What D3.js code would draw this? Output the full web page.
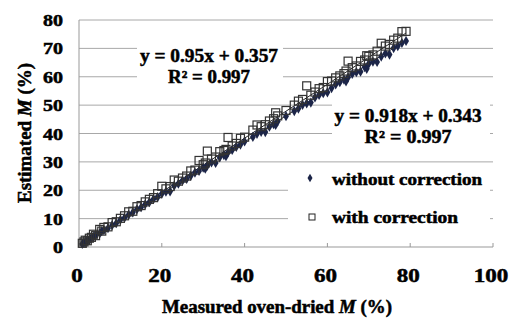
<!DOCTYPE html>
<html>
<head>
<meta charset="utf-8">
<script src="https://cdn.jsdelivr.net/npm/d3@7"></script>
<style>
  body { margin: 0; background: #fff; }
  svg text { font-family: "Liberation Serif", "Times New Roman", serif; font-weight: bold; fill: #000; stroke: #000; stroke-width: 0.5px; }
</style>
</head>
<body>
<svg id="chart" width="515" height="320"></svg>
<script>
// measured oven-dried moisture content (%)
const measured = [0.8,1.2,1.5,2,2.5,3,3.5,4,5,5.5,6,7,8,9,10,11,12,13,14,15,16,17,18,19,20,21,22,23,24,25,26,27,28,29,30,30.5,31,32,33,34,35,35.5,36,37,38,39,40,42,43,44,45,46,47,47.5,48,50,52,53,54,55,56,57,58,59,60,61,62,63,64,64.5,65,66,67,68,69,69.5,70,71,72,73,74,75,76,77,78,79];
// estimated M, without correction
const withoutCorr = [1.1,1.5,1.6,2.3,2.4,3.2,3.6,4.2,4.8,5.6,5.9,6.6,7.7,8.4,9.6,10.3,11.4,12.2,13.3,14.0,15.1,15.8,16.9,17.6,18.8,19.5,19.6,21.6,22.3,23.4,24.0,25.1,26.2,26.8,28.0,27.6,28.7,29.8,29.6,31.6,32.4,32.0,33.3,34.2,35.3,36.1,37.2,38.8,39.9,40.6,40.5,42.4,43.3,43.0,44.3,46.1,47.9,48.8,50.1,50.6,50.9,52.7,53.6,54.2,54.5,56.0,57.3,58.1,59.0,58.4,59.8,61.0,61.6,61.8,63.4,62.8,64.6,65.3,65.2,67.1,68.2,67.8,70.1,70.8,71.9,72.6];
// estimated M, with correction
const withCorr = [1.3,1.8,2.4,2.2,3.1,3.4,4.5,4.0,6.2,5.6,6.9,7.1,8.6,8.9,10.1,11.0,12.4,12.6,14.2,14.6,15.9,16.8,17.4,18.8,21.4,20.5,21.3,23.6,23.2,24.3,25.0,26.8,27.1,30.5,29.0,29.6,33.8,31.0,31.7,33.6,34.0,34.4,38.6,35.6,36.5,38.3,38.7,41.2,43.0,42.4,43.1,44.4,45.2,47.3,46.2,48.1,50.0,51.4,52.0,56.8,53.5,54.6,55.8,56.2,58.3,58.5,59.6,60.3,61.1,62.0,65.5,63.2,63.8,65.4,65.9,67.4,67.2,67.7,69.0,71.8,70.8,71.4,72.9,73.6,75.9,76.0];
// fitted trend lines [slope, intercept]
const fitWithout = [0.918, 0.343];
const fitWith = [0.95, 0.357];
const xTicks = [0, 20, 40, 60, 80, 100];
const yTicks = [0, 10, 20, 30, 40, 50, 60, 70, 80];

const svg = d3.select('#chart');
const pL = 79, pR = 493, pT = 20, pB = 247;

const x = d3.scaleLinear().domain([0, 100]).range([pL, pR]);
const y = d3.scaleLinear().domain([0, 80]).range([pB, pT]);

// gridlines
svg.append('g').selectAll('line').data(yTicks.filter(d => d > 0)).join('line')
  .attr('x1', pL).attr('x2', pR)
  .attr('y1', d => y(d)).attr('y2', d => y(d))
  .attr('stroke', '#a8a8a8').attr('stroke-width', 1);

// axes lines
svg.append('line').attr('x1', pL).attr('x2', pL).attr('y1', pT).attr('y2', pB)
  .attr('stroke', '#999');
svg.append('line').attr('x1', pL).attr('x2', pR).attr('y1', pB).attr('y2', pB)
  .attr('stroke', '#999');
svg.append('g').selectAll('line').data(xTicks).join('line')
  .attr('x1', d => x(d)).attr('x2', d => x(d))
  .attr('y1', pB).attr('y2', pB - 4)
  .attr('stroke', '#999');

// tick labels (stretched sideways like the reference)
svg.append('g').selectAll('text').data(yTicks).join('text')
  .attr('x', 63).attr('y', d => y(d) + 6)
  .attr('text-anchor', 'end').style('font-size', '17px')
  .attr('textLength', d => String(d).length * 10).attr('lengthAdjust', 'spacingAndGlyphs')
  .text(d => d);
svg.append('g').selectAll('text').data(xTicks).join('text')
  .attr('x', d => x(d) - 2).attr('y', 282)
  .attr('text-anchor', 'middle').style('font-size', '19px')
  .attr('textLength', d => String(d).length * 11.5).attr('lengthAdjust', 'spacingAndGlyphs')
  .text(d => d);

// generic text helper
function txt(g, px, py, w, size, anchor) {
  return g.append('text').attr('x', px).attr('y', py).attr('text-anchor', anchor || 'start')
    .style('font-size', size + 'px')
    .attr('textLength', w).attr('lengthAdjust', 'spacingAndGlyphs');
}

// axis titles
const xt = txt(svg, 277, 313, 230, 18, 'middle');
xt.append('tspan').text('Measured oven-dried ');
xt.append('tspan').style('font-style', 'italic').text('M');
xt.append('tspan').text(' (%)');

const yg = svg.append('g').attr('transform', 'translate(31,133) rotate(-90)');
const yt = txt(yg, 0, 0, 140, 18, 'middle');
yt.append('tspan').text('Estimated ');
yt.append('tspan').style('font-style', 'italic').text('M');
yt.append('tspan').text(' (%)');

// trend lines
const line = d3.line().x(d => x(d[0])).y(d => y(d[1]));
[fitWithout, fitWith].forEach(f => {
  svg.append('path')
    .datum([0.8, 79].map(v => [v, f[0] * v + f[1]]))
    .attr('d', line).attr('fill', 'none').attr('stroke', '#222').attr('stroke-width', 1);
});

// points
const data = measured.map((m, i) => ({m, a: withoutCorr[i], b: withCorr[i]}));
svg.append('g').selectAll('path').data(data).join('path')
  .attr('d', d3.symbol(d3.symbolDiamond, 30))
  .attr('transform', d => `translate(${x(d.m)},${y(d.a)})`)
  .attr('fill', '#1c2548');
svg.append('g').selectAll('rect').data(data).join('rect')
  .attr('x', d => x(d.m) - 4).attr('y', d => y(d.b) - 4)
  .attr('width', 8).attr('height', 8)
  .attr('fill', 'none').attr('stroke', '#333').attr('stroke-width', 1.2);

// equation labels with white background
function box(b) {
  svg.append('rect').attr('x', b[0]).attr('y', b[1]).attr('width', b[2]).attr('height', b[3]).attr('fill', '#fff');
}
box([137, 42, 146, 50]);
txt(svg, 209, 62, 138, 18, 'middle').text('y = 0.95x + 0.357');
txt(svg, 209, 83, 82, 18, 'middle').text('R² = 0.997');
box([332, 100, 158, 47]);
txt(svg, 408, 122, 147, 18, 'middle').text('y = 0.918x + 0.343');
txt(svg, 408, 143, 87, 18, 'middle').text('R² = 0.997');

// legend
box([288, 170, 202, 64]);
svg.append('path').attr('d', d3.symbol(d3.symbolDiamond, 22))
  .attr('transform', 'translate(310,178)').attr('fill', '#1c2548');
svg.append('rect').attr('x', 309).attr('y', 214).attr('width', 6).attr('height', 6)
  .attr('fill', 'none').attr('stroke', '#222');
txt(svg, 332, 185, 150, 16).text('without correction');
txt(svg, 332, 223, 126, 16).text('with correction');
</script>
</body>
</html>
